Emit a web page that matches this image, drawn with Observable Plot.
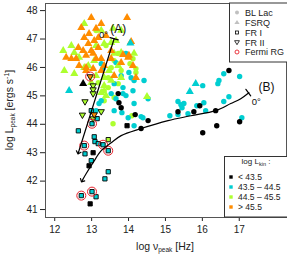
<!DOCTYPE html>
<html><head><meta charset="utf-8">
<script src="https://cdn.jsdelivr.net/npm/d3@7"></script>
<script src="https://cdn.jsdelivr.net/npm/@observablehq/plot@0.6"></script>
<style>
body{margin:0;background:#fff;}
#chart{position:relative;width:287px;height:258px;}
</style></head><body><div id="chart"></div>
<script>
// ---- axes ----
const xTicks = [12, 13, 14, 15, 16, 17];
const yTicks = [41, 42, 43, 44, 45, 46, 47, 48];
const xDomain = [11.75, 18.28];
const yDomain = [40.72, 48.25];

// ---- BL Lac (circles), by log L_kin bin ----
const blLacBlack = [[16.72,45.89],[15.34,44.44],[15.77,44.44],[15.93,44.65],[16.36,44.48],[14.53,44.13],[14.34,43.85],[17.01,44.09],[16.39,43.95],[16.01,43.70],[13.72,45.08],[13.74,44.76],[13.80,44.58],[14.18,44.34]];
const blLacCyan = [[16.58,45.78],[16.45,45.54],[16.42,45.43],[17.01,45.68],[16.01,45.36],[16.72,44.97],[16.58,44.80],[16.04,44.76],[15.50,44.73],[15.42,44.69],[15.34,44.80],[15.45,44.58],[15.85,44.65],[16.09,44.48],[15.61,44.37],[15.34,44.34],[15.12,44.30],[14.39,44.23],[17.07,44.23],[14.53,44.90],
  [13.66,46.17],[13.93,46.49],[13.26,46.13],[13.31,45.96],[13.80,45.71],[14.01,45.82],[14.15,45.54],[14.42,45.54],[14.07,45.64],[13.85,45.29],[14.12,45.18],[13.61,45.43],[13.53,45.08],[13.26,44.83],[13.20,44.73],[13.66,44.90],[13.93,45.01],[14.15,44.73],[13.61,44.48],[13.12,44.48],[13.99,44.23],[13.82,44.41],[14.34,44.27],[14.15,43.95],[13.85,45.08]];
const blLacGreen = [[13.72,46.49],[14.12,46.31],[14.04,46.13],[14.20,45.96],[14.20,45.82],[13.61,46.24],[13.53,45.99],[13.80,45.89],[13.45,45.64],[13.72,45.43],[13.18,45.46],[13.45,45.29],[13.34,45.18],[13.61,44.94],[13.34,44.83],[14.09,44.30],[13.58,44.02],[13.39,46.77],[13.12,47.30]];

// ---- FSRQ (triangles) ----
const fsrqOrange = [[12.99,47.75],[13.96,47.75],[12.72,47.40],[13.26,47.54],[12.80,47.05],[12.93,47.19],[13.07,46.94],[13.18,46.70],[12.99,46.59],[12.91,46.84],[12.64,46.70],[12.31,46.35],[12.45,46.31],[12.85,46.42],[13.04,46.49],[13.26,46.31],[13.34,46.06],[13.53,46.31],[13.80,46.17],[14.12,46.06],[14.20,45.64],[13.61,45.71],[14.01,46.42],[13.53,46.59],[12.77,46.59],[13.26,45.89],[13.18,47.05],[13.39,47.12],[13.12,47.37],[12.85,45.89],[12.66,46.06],[14.07,46.91],[13.85,46.45],[13.99,46.35],[12.58,46.31],[13.04,45.96],[12.85,45.99],[13.12,46.31]];
const fsrqGreen = [[12.80,47.54],[13.26,47.30],[13.58,47.37],[12.53,46.52],[13.53,46.87],[13.34,46.84],[13.80,46.52],[13.61,46.49],[13.07,46.24],[12.91,46.06],[12.66,46.35],[13.12,45.71],[13.34,45.36],[12.99,45.46],[13.26,45.11],[12.53,45.78],[13.47,45.89],[13.66,46.94],[12.45,46.77],[12.23,46.59],[13.80,47.30],[13.12,46.77],[14.50,44.97],[13.39,45.01],[12.26,45.89],[12.80,45.99],[13.53,45.54],[13.34,45.64],[13.72,46.06],[13.80,45.64],[14.15,46.49]];
const fsrqCyan = [[14.05,46.85],[12.39,45.18],[15.82,45.43],[15.66,45.15]];
const fsrqBlack = [[12.77,45.43]];

// ---- FR I (squares) ----
const fr1Cyan = [[12.64,43.77],[13.07,43.56],[13.09,43.39],[13.18,43.32],[13.31,43.28],[12.80,43.25],[13.45,43.07],[12.82,42.96],[12.99,42.72],[13.45,42.33],[13.36,42.08],[12.72,41.49],[13.01,41.63],[13.12,41.45],[13.01,44.02],[12.99,44.48],[13.15,44.20]];
const fr1Black = [[13.04,43.00],[12.93,42.54],[12.96,41.20],[13.96,43.95]];
const fr1Green = [[13.45,43.46]];

// ---- FR II (down triangles) ----
const fr2Green = [[13.04,45.36],[13.04,45.22],[13.04,45.08],[12.82,44.80],[12.75,44.33],[13.26,44.45],[13.04,44.20]];
const fr2Orange = [[12.96,45.68],[13.07,44.34]];

// ---- Fermi radio galaxies (red rings) ----
const fermiRG = [[12.96,45.68],[13.01,44.02],[12.80,43.25],[13.31,43.28],[13.45,43.07],[12.72,41.49],[13.01,41.63]];

// ---- tracks ----
const curveA = [[13.61,47.01],[12.64,43.00]];
const tickA = [[13.50,47.05],[13.72,46.97]];
const curveB = [[17.26,45.11],[17.04,44.90],[16.77,44.73],[16.36,44.48],[15.69,44.30],[15.07,44.13],[14.34,43.85],[13.80,43.60],[13.53,43.35],[13.26,43.07],[13.04,42.65],[12.85,42.26],[12.74,42.01]];
const tickB = [[17.18,45.23],[17.31,45.00]];
const annText = ["(A)", "0°", "(B)", "0°"];
const annX = [13.72, 13.32, 17.74, 17.46];
const annY = [47.35, 47.14, 45.30, 44.78];

// legend texts
const typeLabels = ["BL Lac", "FSRQ", "FR I", "FR II", "Fermi RG"];
const binLabels = ["< 43.5", "43.5 – 44.5", "44.5 – 45.5", "> 45.5"];

// ---- styles ----
const C = {black:"#000000", cyan:"#00CED1", green:"#ADFF2F", orange:"#FF8C00"};
const binColorList = [C.black, C.cyan, C.green, C.orange];
const gray = "#C0C0C0";
const red = "#E8202A";

const triDown = {
  draw(context, size) {
    const s = Math.sqrt(size) * 0.6824, t = s / 2, u = s * Math.sqrt(3) / 2;
    context.moveTo(0, s); context.lineTo(u, -t); context.lineTo(-u, -t); context.closePath();
  }
};

const X = d => d[0], Y = d => d[1];
const circ = (data, fill) => Plot.dot(data, {x:X, y:Y, r:2.7, fill, stroke:"none"});
const tri = (data, fill) => Plot.dot(data, {x:X, y:Y, r:3, symbol:"triangle", fill, stroke:"none"});
const sq = (data, fill) => Plot.dot(data, {x:X, y:Y, r:2.4, symbol:"square", fill, stroke:"#000", strokeWidth:0.9});
const tdn = (data, fill) => Plot.dot(data, {x:X, y:Y, r:3, symbol:triDown, fill, stroke:"#000", strokeWidth:0.9});

const svg = Plot.plot({
  width: 287, height: 258,
  marginLeft: 45, marginRight: 1, marginTop: 3, marginBottom: 41,
  style: {fontFamily: "Liberation Sans, Arial, sans-serif", fontSize: "10px", color: "#222", background: "#fff"},
  x: {domain: xDomain, ticks: xTicks, tickFormat: d3.format("d"), tickSize: 4, tickPadding: 4, label: null},
  y: {domain: yDomain, ticks: yTicks, tickFormat: d3.format("d"), tickSize: 5, tickPadding: 3, label: null},
  marks: [
    circ(blLacGreen, C.green),
    circ(blLacCyan, C.cyan),
    circ(blLacBlack, C.black),
    tri(fsrqGreen, C.green),
    tri(fsrqOrange, C.orange),
    tri(fsrqCyan, C.cyan),
    tri(fsrqBlack, C.black),
    sq(fr1Cyan, C.cyan),
    sq(fr1Black, C.black),
    sq(fr1Green, C.green),
    tdn(fr2Green, C.green),
    tdn(fr2Orange, C.orange),
    Plot.dot(fermiRG, {x:X, y:Y, r:4.5, fill:"none", stroke:red, strokeWidth:1}),
    Plot.line(curveA, {x:X, y:Y, stroke:"#000", strokeWidth:1.2, markerEnd:"arrow"}),
    Plot.line(tickA, {x:X, y:Y, stroke:"#000", strokeWidth:1.2}),
    Plot.line(curveB, {x:X, y:Y, stroke:"#000", strokeWidth:1.2, curve:"catmull-rom", markerEnd:"arrow"}),
    Plot.line(tickB, {x:X, y:Y, stroke:"#000", strokeWidth:1.2}),
    Plot.text(annText, {x:(d,i)=>annX[i], y:(d,i)=>annY[i], text:d=>d, fontSize:(d,i)=> i%2===0 ? 12 : 9.5, fill:"#111"}),
    Plot.frame({stroke:"#555"})
  ]
});
document.getElementById("chart").appendChild(svg);

const s = d3.select(svg);
// axis titles
const yl = s.append("text").attr("transform","translate(13,110) rotate(-90)").attr("text-anchor","middle")
  .attr("font-size",10.5).attr("fill","#222");
yl.append("tspan").text("log L");
yl.append("tspan").attr("font-size",6.5).attr("dy",2).text("peak");
yl.append("tspan").attr("dy",-2).text(" [ergs s");
yl.append("tspan").attr("font-size",7).attr("dy",-4).text("-1");
yl.append("tspan").attr("dy",4).text("]");

const xl = s.append("text").attr("x",165).attr("y",250).attr("text-anchor","middle")
  .attr("font-size",10.5).attr("fill","#222");
xl.append("tspan").text("log ν");
xl.append("tspan").attr("font-size",6.5).attr("dy",2).text("peak");
xl.append("tspan").attr("dy",-2).text(" [Hz]");

// legend 1: source types
const g1 = s.append("g").attr("text-anchor","start");
g1.append("rect").attr("x",229.5).attr("y",3).attr("width",60).attr("height",59).attr("fill","#fff").attr("stroke","#333");
const ly1 = [12.5, 22.5, 32.5, 42.5, 52];
typeLabels.forEach((t,i) => {
  g1.append("text").attr("x",245).attr("y",ly1[i]+3.2).attr("text-anchor","start").attr("font-size",9).attr("fill","#222").text(t);
});
g1.append("circle").attr("cx",237).attr("cy",ly1[0]).attr("r",2).attr("fill",gray);
g1.append("path").attr("d",`M237,${ly1[1]-2.6}L239.6,${ly1[1]+1.6}L234.4,${ly1[1]+1.6}Z`).attr("fill",gray);
g1.append("rect").attr("x",235.5).attr("y",ly1[2]-1.5).attr("width",3).attr("height",3).attr("fill","none").attr("stroke","#000").attr("stroke-width",0.8);
g1.append("path").attr("d",`M237,${ly1[3]+2.2}L239.4,${ly1[3]-1.8}L234.6,${ly1[3]-1.8}Z`).attr("fill","none").attr("stroke","#000").attr("stroke-width",0.8);
g1.append("circle").attr("cx",237).attr("cy",ly1[4]).attr("r",2).attr("fill","none").attr("stroke",red).attr("stroke-width",0.9);

// legend 2: L_kin bins
const g2 = s.append("g").attr("text-anchor","start");
g2.append("rect").attr("x",224.5).attr("y",156.5).attr("width",65).attr("height",60.5).attr("fill","#fff").attr("stroke","#333");
const tt = g2.append("text").attr("x",256).attr("y",164).attr("text-anchor","middle").attr("font-size",8).attr("fill","#222");
tt.append("tspan").text("log L");
tt.append("tspan").attr("font-size",5.5).attr("dy",1.5).text("kin");
tt.append("tspan").attr("dy",-1.5).text(" :");
const ly2 = [177, 187, 197, 207];
binLabels.forEach((t,i) => {
  g2.append("rect").attr("x",229.3).attr("y",ly2[i]-1.7).attr("width",3.4).attr("height",3.4).attr("fill",binColorList[i]);
  g2.append("text").attr("x",238).attr("y",ly2[i]+3).attr("text-anchor","start").attr("font-size",8.5).attr("fill","#222").text(t);
});
</script></body></html>
